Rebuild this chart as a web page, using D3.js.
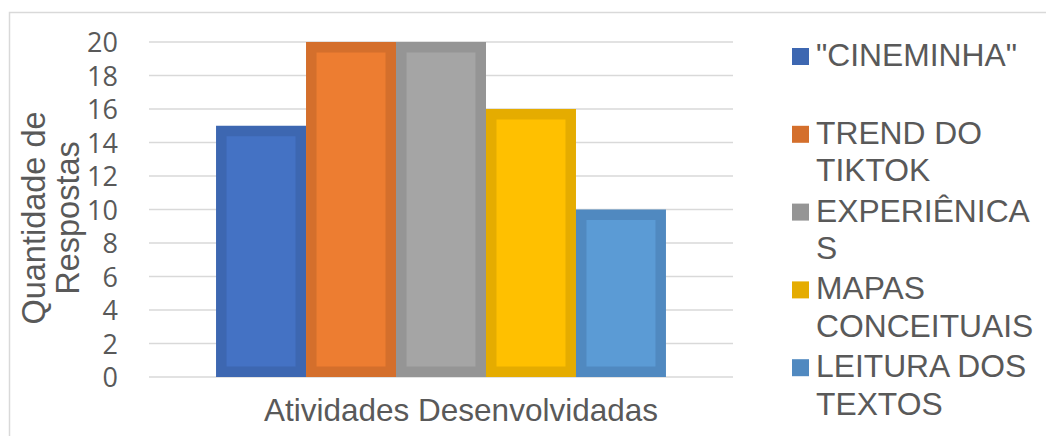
<!DOCTYPE html>
<html>
<head>
<meta charset="utf-8">
<script src="https://cdn.jsdelivr.net/npm/d3@7"></script>
<style>
  html, body { margin: 0; padding: 0; background: #fff; }
  svg { display: block; }
</style>
</head>
<body>
<svg id="chart" width="1046" height="436"></svg>
<script>
// Chart data
const categories = ["Atividades Desenvolvidadas"];
const seriesNames = ["\"CINEMINHA\"", "TREND DO TIKTOK", "EXPERIÊNICAS", "MAPAS CONCEITUAIS", "LEITURA DOS TEXTOS"];
const seriesValues = [15, 20, 20, 16, 10];
const legendLines = [["\"CINEMINHA\""], ["TREND DO", "TIKTOK"], ["EXPERIÊNICA", "S"], ["MAPAS", "CONCEITUAIS"], ["LEITURA DOS", "TEXTOS"]];
const yTicks = [0, 2, 4, 6, 8, 10, 12, 14, 16, 18, 20];
const fillColors = ["#4472C4", "#ED7D31", "#A5A5A5", "#FFC000", "#5B9BD5"];
const strokeColors = ["#3D67B1", "#D46F2C", "#959595", "#E5AC00", "#5089C0"];

const svg = d3.select("#chart");
const textColor = "#595959";
const sansFont = "'Liberation Sans', Arial, sans-serif";

// Outer chart frame
svg.append("rect")
  .attr("x", 9.5).attr("y", 12.5)
  .attr("width", 1060).attr("height", 450)
  .attr("fill", "none").attr("stroke", "#D9D9D9").attr("stroke-width", 1.5);

const plot = { left: 149, right: 733, top: 42, bottom: 377 };

const y = d3.scaleLinear().domain([0, 20]).range([plot.bottom, plot.top]);
const x0 = d3.scaleBand().domain(categories).range([plot.left, plot.right])
  .paddingInner(0).paddingOuter(0.149);
const x1 = d3.scaleBand().domain(seriesNames).range([0, x0.bandwidth()]);

// Gridlines
svg.append("g").selectAll("line").data(yTicks).join("line")
  .attr("x1", plot.left).attr("x2", plot.right)
  .attr("y1", d => y(d)).attr("y2", d => y(d))
  .attr("stroke", "#D9D9D9").attr("stroke-width", 1.3);

// Y axis tick labels
const yAxis = d3.axisLeft(y).tickValues(yTicks).tickSize(0).tickPadding(0);
const gy = svg.append("g").attr("transform", "translate(118,0)").call(yAxis);
gy.select(".domain").remove();
gy.selectAll("text")
  .attr("fill", textColor)
  .style("font-family", "'Open Sans', sans-serif")
  .style("font-size", "27px")
  .attr("dy", "0.36em");

// Bars (border drawn inside each bar)
const sw = 10.5;
const rows = seriesNames.map((name, i) => ({ name, value: seriesValues[i], i }));
svg.append("g").selectAll("rect").data(rows).join("rect")
  .attr("x", d => x0(categories[0]) + x1(d.name) + sw / 2)
  .attr("y", d => y(d.value) + sw / 2)
  .attr("width", x1.bandwidth() - sw)
  .attr("height", d => y(0) - y(d.value) - sw)
  .attr("fill", d => fillColors[d.i])
  .attr("stroke", d => strokeColors[d.i])
  .attr("stroke-width", sw);

// Axis titles
svg.append("text")
  .attr("x", 461).attr("y", 421)
  .attr("text-anchor", "middle")
  .attr("fill", textColor)
  .style("font-family", sansFont).style("font-size", "31.5px")
  .text(categories[0]);

const yTitle = svg.append("text")
  .attr("transform", "translate(45,218) rotate(-90)")
  .attr("text-anchor", "middle")
  .attr("fill", textColor)
  .style("font-family", sansFont).style("font-size", "32.5px");
yTitle.append("tspan").attr("x", 0).attr("y", 0).text("Quantidade de");
yTitle.append("tspan").attr("x", 0).attr("y", 34).text("Respostas");

// Legend
const legend = svg.append("g");
legendLines.forEach((lines, i) => {
  const base = 66 + i * 77.8;
  legend.append("rect")
    .attr("x", 792).attr("y", base - 18)
    .attr("width", 17).attr("height", 17)
    .attr("fill", strokeColors[i]);
  const t = legend.append("text")
    .attr("fill", textColor)
    .style("font-family", sansFont).style("font-size", "31.8px");
  lines.forEach((ln, j) => {
    t.append("tspan").attr("x", 816).attr("y", base + j * 37.3).text(ln);
  });
});
</script>
</body>
</html>
